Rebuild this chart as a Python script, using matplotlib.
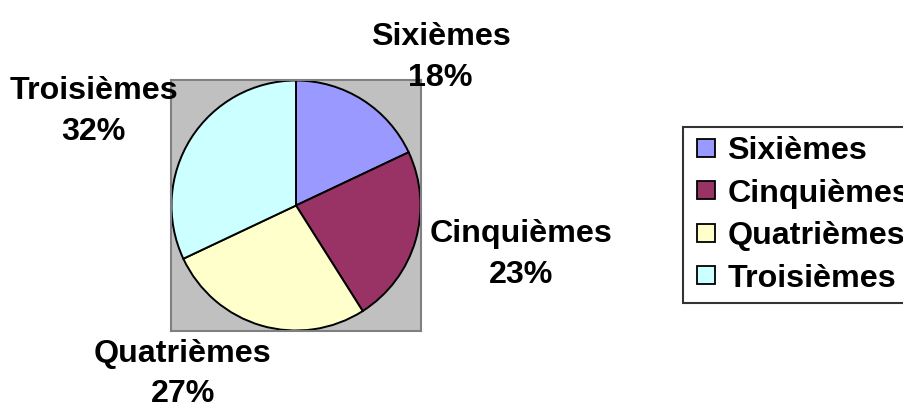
import numpy as np
import matplotlib
matplotlib.use("Agg")
import matplotlib.pyplot as plt
from matplotlib.lines import Line2D

# Répartition des élèves par niveau (en %)
levels = ["Sixièmes", "Cinquièmes", "Quatrièmes", "Troisièmes"]
shares = [18, 23, 27, 32]
colors = ["#9999FF", "#993366", "#FFFFCC", "#CCFFFF"]

plt.rcParams["font.family"] = ["Liberation Sans", "DejaVu Sans"]
plt.rcParams["font.weight"] = "bold"
FS = 23.2

fig = plt.figure(figsize=(9.04, 4.15), dpi=100)
W, H = 904, 415
# grey plot area, in pixels: x 171..421, y 80..331
ax = fig.add_axes([171 / W, 1 - 331 / H, 250 / W, 251 / H])
ax.set_facecolor("#C0C0C0")
for sp in ax.spines.values():
    sp.set_color("#808080")
    sp.set_linewidth(1.5)

wedges, _ = ax.pie(
    shares,
    colors=colors,
    startangle=90,
    counterclock=False,
    radius=1.0,
    wedgeprops=dict(edgecolor="black", linewidth=1.4),
    frame=True,
)
ax.set_xlim(-1.004, 1.004)
ax.set_ylim(-1.004, 1.004)
ax.set_aspect("auto")
ax.set_xticks([])
ax.set_yticks([])

# data labels outside each wedge; the text box is pushed away from the pie
# by a share of its own size along the wedge direction (Excel-like)
renderer = fig.canvas.get_renderer()
for w, name, v in zip(wedges, levels, shares):
    mid = np.deg2rad((w.theta1 + w.theta2) / 2)
    c, s = np.cos(mid), np.sin(mid)
    t = ax.annotate(
        f"{name}\n{v}%",
        xy=(1.12 * c, 1.12 * s),
        xytext=(0, 0),
        textcoords="offset pixels",
        ha="center",
        va="center",
        multialignment="center",
        fontsize=FS,
        fontweight="bold",
        linespacing=1.45,
        annotation_clip=False,
    )
    bb = t.get_window_extent(renderer)
    dx = bb.width / 2 * np.sign(c) * min(1.0, 3 * abs(c))
    dy = bb.height / 2 * s
    t.xyann = (dx, dy)

handles = [
    Line2D([0], [0], ls="none", marker="s", markersize=13.3,
           markerfacecolor=col, markeredgecolor="black", markeredgewidth=1.3)
    for col in colors
]
leg = fig.legend(
    handles, levels,
    loc="upper left",
    bbox_to_anchor=(683 / W, 1 - 127 / H),
    borderaxespad=0,
    prop=dict(weight="bold", size=FS),
    frameon=True,
    fancybox=False,
    handlelength=0.84,
    handletextpad=0.25,
    labelspacing=0.39,
    borderpad=0.28,
)
leg.get_frame().set_edgecolor("black")
leg.get_frame().set_linewidth(1.5)

fig.savefig("out.png", dpi=100)
